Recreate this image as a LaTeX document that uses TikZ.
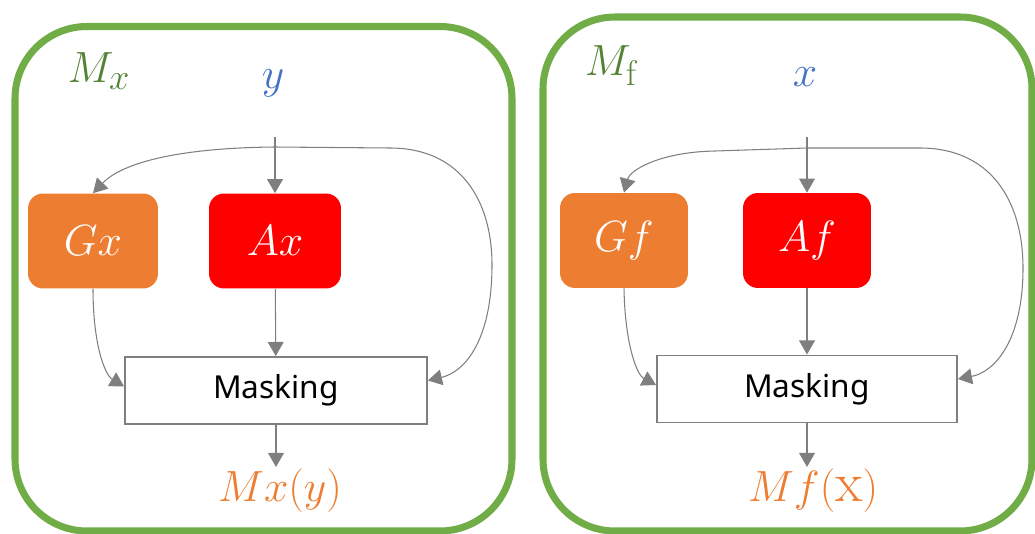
\documentclass[tikz,border=0pt]{standalone}
\usepackage{fontspec}
\newfontfamily\maskfont{Noto Sans}
\usepackage{xcolor}
\usepackage{tikz}
\usetikzlibrary{positioning,arrows.meta}

\definecolor{panelgreen}{HTML}{70AD47}
\definecolor{labelgreen}{HTML}{548235}
\definecolor{inblue}{HTML}{4472C4}
\definecolor{genorange}{HTML}{ED7D31}
\definecolor{attred}{HTML}{FF0000}
\definecolor{flowgray}{HTML}{7F7F7F}

\tikzset{
  panel/.style={draw=panelgreen, line width=4pt, rounded corners=1.44cm},
  opbox/.style={rounded corners=0.3cm, minimum width=2.6cm, minimum height=1.9cm,
    text=white, font=\fontsize{25}{25}\selectfont},
  maskbox/.style={draw=flowgray, line width=1.1pt, fill=white, minimum width=6.04cm,
    minimum height=1.34cm, font=\maskfont\fontsize{18}{18}\selectfont},
  flow/.style={draw=flowgray, line width=0.6pt, -{Triangle[length=8pt,width=9pt]}},
  biglabel/.style={font=\fontsize{29}{29}\selectfont, inner sep=1pt},
  outlabel/.style={font=\fontsize{32}{32}\selectfont, inner sep=1pt, text=genorange, anchor=north}
}

\begin{document}
\begin{tikzpicture}[x=0.02cm, y=-0.02cm]
\useasboundingbox (0,0) rectangle (1035,534);

% Left panel
\draw[panel] (15,26.5) rectangle (512,531);
\node[biglabel, labelgreen] (Mxlab) at (99,71) {$M_x$};
\node[biglabel, inblue] (yin) at (273,83) {$y$};
\node[opbox, fill=genorange] (Gx) at (93,241) {$Gx$};
\node[opbox, fill=attred, minimum width=2.64cm] (Ax) at (275,241) {$Ax$};
\node[maskbox] (MaskL) at (276,390.5) {Masking};
\node[outlabel] (Mxy) at (280,467) {$Mx(y)$};
\coordinate (ytop) at (275,137);
\coordinate (ysplit) at (275,147);

\draw[flow] (ytop) -- (Ax);
\draw[flow] (ysplit) .. controls (170,148) and (120,165) .. (Gx.north);
\draw[flow] (ysplit) -- (390,148) .. controls (460,148) and (492,200) .. (492,265)
    .. controls (492,340) and (465,372) .. ([yshift=0.2cm]MaskL.east);
\draw[flow] (Gx.south) .. controls (93,345) and (105,375) .. ([yshift=0.08cm]MaskL.west);
\draw[flow] (Ax) -- (MaskL);
\draw[flow] (MaskL.south) -- (MaskL.south |- Mxy.north);

% Right panel
\draw[panel] (543,17) rectangle (1032,531);
\node[biglabel, labelgreen] (Mflab) at (611,66) {$M_{\mathrm{f}}$};
\node[biglabel, inblue] (xin) at (805,77) {$x$};
\node[opbox, fill=genorange, minimum width=2.56cm] (Gf) at (624,240.5) {$Gf$};
\node[opbox, fill=attred, minimum width=2.56cm] (Af) at (807,240.5) {$Af$};
\node[maskbox, minimum width=6cm] (MaskR) at (807,389) {Masking};
\node[outlabel] (Mfx) at (813,467) {$Mf(\mathrm{x})$};
\coordinate (xtop) at (807,137);
\coordinate (xsplit) at (807,148);

\draw[flow] (xtop) -- (Af);
\draw[flow] (xsplit) -- (715,151) .. controls (660,152) and (630,170) .. (Gf.north);
\draw[flow] (xsplit) -- (920,148) .. controls (990,148) and (1023,200) .. (1023,268)
    .. controls (1023,340) and (995,372) .. ([yshift=0.2cm]MaskR.east);
\draw[flow] (Gf.south) .. controls (625,345) and (637,375) .. ([yshift=0.08cm]MaskR.west);
\draw[flow] (Af) -- (MaskR);
\draw[flow] (MaskR.south) -- (MaskR.south |- Mfx.north);
\end{tikzpicture}
\end{document}
